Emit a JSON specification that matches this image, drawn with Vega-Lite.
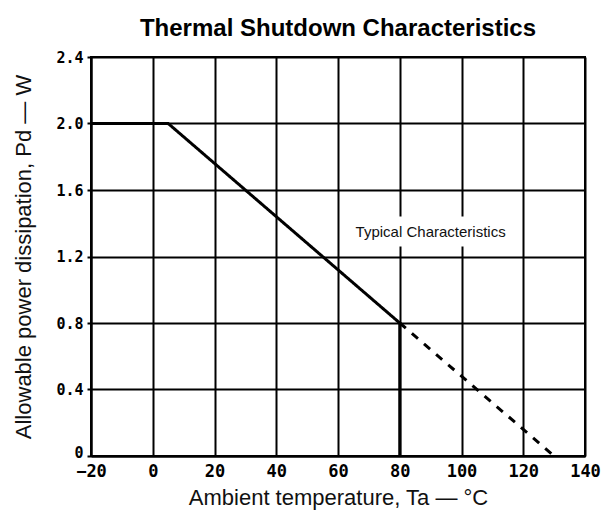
{
  "$schema": "https://vega.github.io/schema/vega-lite/v6.json",
  "autosize": "none",
  "width": 494,
  "height": 399,
  "padding": {"left": 91, "top": 57, "right": 18, "bottom": 54},
  "background": "white",
  "title": {
    "text": "Thermal Shutdown Characteristics",
    "font": "Liberation Sans",
    "fontSize": 24,
    "fontWeight": "bold",
    "color": "black",
    "anchor": "middle",
    "offset": 9
  },
  "config": {
    "view": {"stroke": "black", "strokeWidth": 2},
    "axis": {
      "domainColor": "black",
      "domainWidth": 2,
      "gridColor": "black",
      "gridWidth": 2,
      "gridOpacity": 1,
      "tickColor": "black",
      "tickWidth": 2,
      "tickSize": 4,
      "labelFont": "DejaVu Sans Mono",
      "labelFontWeight": "bold",
      "labelColor": "black",
      "labelFlush": false,
      "labelOverlap": false,
      "labelBound": false,
      "titleFont": "Liberation Sans",
      "titleFontWeight": "normal",
      "titleFontSize": 22,
      "titleColor": "#111"
    }
  },
  "datasets": {
    "curve": [
      {"ta": -20, "pd": 2.0, "seg": "solid", "ord": 1},
      {"ta": 5, "pd": 2.0, "seg": "solid", "ord": 2},
      {"ta": 80, "pd": 0.8, "seg": "solid", "ord": 3},
      {"ta": 80, "pd": 0.0, "seg": "solid", "ord": 4},
      {"ta": 80, "pd": 0.8, "seg": "dashed", "ord": 1},
      {"ta": 130, "pd": 0.0, "seg": "dashed", "ord": 2}
    ],
    "note": [
      {"ta": 90, "pd": 1.35, "x0": 64, "x1": 116, "y0": 1.26, "y1": 1.44, "label": "Typical Characteristics"}
    ]
  },
  "layer": [
    {
      "data": {"name": "curve"},
      "mark": {"type": "line", "color": "black", "strokeWidth": 3, "strokeCap": "butt"},
      "encoding": {
        "x": {
          "field": "ta",
          "type": "quantitative",
          "scale": {"domain": [-20, 140], "nice": false, "zero": false},
          "axis": {
            "values": [-20, 0, 20, 40, 60, 80, 100, 120, 140],
            "title": "Ambient temperature, Ta —  °C",
            "titlePadding": 8,
            "ticks": false,
            "labelPadding": 7,
            "labelFontSize": 17
          }
        },
        "y": {
          "field": "pd",
          "type": "quantitative",
          "scale": {"domain": [0, 2.4], "nice": false},
          "axis": {
            "values": [0, 0.4, 0.8, 1.2, 1.6, 2.0, 2.4],
            "labelExpr": "datum.value == 0 ? '0' : format(datum.value, '.1f')",
            "labelOffset": {"condition": {"test": "datum.value == 0", "value": -4}, "value": 0},
            "title": "Allowable power dissipation, Pd — W",
            "titlePadding": 20,
            "labelPadding": 4,
            "labelFontSize": 15
          }
        },
        "detail": {"field": "seg"},
        "order": {"field": "ord"},
        "strokeDash": {
          "field": "seg",
          "type": "nominal",
          "scale": {"domain": ["solid", "dashed"], "range": [[1, 0], [8, 8]]},
          "legend": null
        }
      }
    },
    {
      "data": {"name": "note"},
      "mark": {"type": "rect", "color": "white"},
      "encoding": {
        "x": {"field": "x0", "type": "quantitative"},
        "x2": {"field": "x1"},
        "y": {"field": "y0", "type": "quantitative"},
        "y2": {"field": "y1"}
      }
    },
    {
      "data": {"name": "note"},
      "mark": {"type": "text", "font": "Liberation Sans", "fontSize": 15, "color": "#111", "align": "center", "baseline": "middle"},
      "encoding": {
        "x": {"field": "ta", "type": "quantitative"},
        "y": {"field": "pd", "type": "quantitative"},
        "text": {"field": "label"}
      }
    }
  ]
}
